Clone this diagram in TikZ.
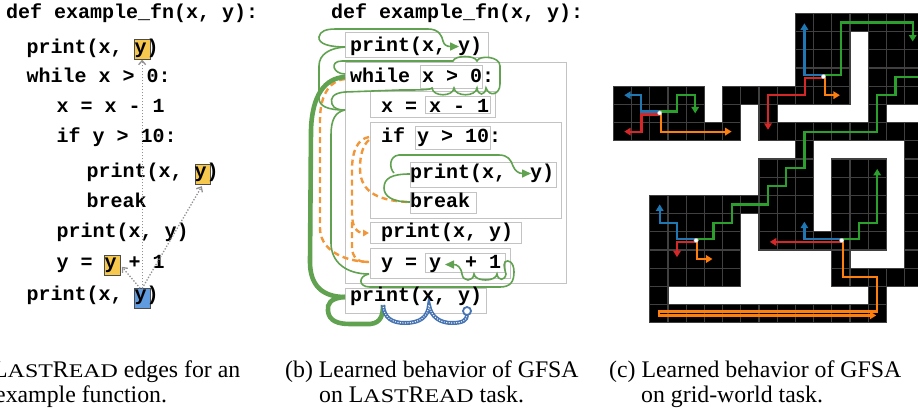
\documentclass[tikz,border=0pt]{standalone}
\usepackage{fontspec}
\usepackage{graphicx}
\setmainfont{Liberation Serif}
\setmonofont{Liberation Mono}
\usetikzlibrary{arrows.meta}
\definecolor{hlyel}{RGB}{246,200,78}
\definecolor{hlblu}{RGB}{95,155,222}
\definecolor{boxgray}{RGB}{195,195,195}
\definecolor{lrgray}{RGB}{145,145,145}
\definecolor{gfgreen}{RGB}{96,162,80}
\definecolor{gforange}{RGB}{242,150,58}
\definecolor{gfblue}{RGB}{70,115,178}
\definecolor{tabblue}{RGB}{31,119,180}
\definecolor{taborange}{RGB}{255,127,14}
\definecolor{tabgreen}{RGB}{44,160,44}
\definecolor{tabred}{RGB}{214,39,40}
\definecolor{cellline}{RGB}{64,64,64}
\newcommand\codesize{\fontsize{20}{20}\selectfont\ttfamily\bfseries}
\newcommand\capsize{\fontsize{23.8}{26}\selectfont}
% small capitals imitated with widened, reduced capitals
\newcommand\smallcaps[1]{\scalebox{1.24}[1]{\fontsize{19.3}{20}\selectfont #1}}
\newcommand\lastread{L\smallcaps{AST}R\smallcaps{EAD}}
% a plain gray frame given by its corners
\newcommand\codebox[5]{\node[cbox,minimum width={#4-#2},minimum height={#5-#3}] (#1) at ({(#2+#4)/2},{(#3+#5)/2}) {};}
\begin{document}
\begin{tikzpicture}[x=1pt,y=-1pt,
  code/.style={anchor=base west,inner sep=0pt,font=\codesize},
  captext/.style={anchor=base west,inner sep=0pt,font=\capsize},
  cbox/.style={draw=boxgray,line width=1pt,inner sep=0pt,rectangle},
  hlbox/.style={draw=black!70,line width=0.8pt,inner sep=0pt,minimum width=15.7pt,minimum height=20pt},
  lrarrow/.style={draw=lrgray,line width=1.3pt,dash pattern=on 1.3pt off 1.7pt,-{Straight Barb[length=4pt,width=7pt]}},
  gthin/.style={draw=gfgreen,line width=1.6pt},
  gthick/.style={draw=gfgreen,line width=4.6pt},
  gtip/.style={-{Triangle[length=9pt,width=8pt]}},
  odash/.style={draw=gforange,line width=2.4pt,dash pattern=on 6pt off 4pt},
  otip/.style={-{Triangle[length=6pt,width=6.5pt]}},
  bead/.style={draw=gfblue,line width=4pt,postaction={draw=white,line width=1.4pt,dash pattern=on 0pt off 2.5pt,line cap=round}},
  walk/.style={line width=2.2pt,-{Triangle[length=6.5pt,width=7.5pt]}},
  agent/.style={fill=white,draw=black!30,line width=0.4pt}
]
\useasboundingbox (0,0) rectangle (918,408);

%%%%%%%%%%%%%%%% (a) last-read edges %%%%%%%%%%%%%%%%
\node[hlbox,fill=hlyel] (ya1) at (142.15,49.3) {};
\node[hlbox,fill=hlyel] (ya2) at (202.85,174.3) {};
\node[hlbox,fill=hlyel] (ya3) at (112.15,265.3) {};
\node[hlbox,fill=hlblu] (yb) at (142.15,298.7) {};

\node[code] (a0) at (6,18) {def example\_fn(x, y):};
\node[code] (a1) at (26.5,53) {print(x, y)};
\node[code] (a2) at (26.5,82) {while x > 0:};
\node[code] (a3) at (56.5,112) {x = x - 1};
\node[code] (a4) at (56.5,142) {if y > 10:};
\node[code] (a5) at (86.5,177) {print(x, y)};
\node[code] (a6) at (86.5,207) {break};
\node[code] (a7) at (56.5,237) {print(x, y)};
\node[code] (a8) at (56.5,268) {y = y + 1};
\node[code] (a9) at (26.5,300) {print(x, y)};

\draw[lrarrow] (yb.north) -- (ya1.south);
\draw[lrarrow] (yb.north) -- ([xshift=-1pt,yshift=-1.5pt]ya2.south);
\draw[lrarrow] ([xshift=-2pt]yb.north) -- ([xshift=1.5pt,yshift=-1.5pt]ya3.east);

%%%%%%%%%%%%%%%% (b) learned GFSA behaviour on the code %%%%%%%%%%%%%%%%
\codebox{bp1}{345}{32}{488}{57}
\codebox{bw}{345}{62}{566}{283}
\codebox{bw0}{420}{65}{482}{88}
\codebox{bx}{370}{91}{495}{117}
\codebox{bx0}{425}{96}{490}{113}
\codebox{bif}{370}{122}{561}{218}
\codebox{bif0}{415}{126}{490}{149}
\codebox{bp2}{410}{162}{556}{187}
\codebox{bbr}{410}{192}{476}{213}
\codebox{bp3}{370}{222}{521}{243}
\codebox{by}{370}{248}{510}{278}
\codebox{by0}{425}{253}{505}{272}
\codebox{bp4}{345}{288}{486}{313}

\coordinate (p1l) at (345,47);
\coordinate (wl) at (345,77);
\coordinate (wlb) at (345,79);
\coordinate (wlt) at (345,74);
\coordinate (xl) at (345,110);
\coordinate (ifl) at (369,137);
\coordinate (ifl2) at (369,140);
\coordinate (p2l) at (410,174);
\coordinate (brl) at (410,202);
\coordinate (p3l) at (369,233);
\coordinate (yl) at (369,274);
\coordinate (yl2) at (369,262);
\coordinate (p4l) at (345,297);
\coordinate (p4x) at (383,305);
\coordinate (p4m) at (429,305);
\coordinate (p4y) at (467,311);

% dashed orange runs
\draw[odash] (wlb) .. controls (332,80) and (320,92) .. (320,120) -- (320,228) .. controls (320,248) and (340,261) .. (yl2);
\draw[odash,otip] (ifl) .. controls (358,139) and (352,150) .. (352,170) -- (352,214) .. controls (352,227) and (357,233) .. (p3l);
\draw[odash] (352,222) -- (352,247) .. controls (352,257) and (358,263) .. (yl2);
\draw[odash] (ifl2) .. controls (363,145) and (360,155) .. (360,168) .. controls (360,188) and (372,201) .. (brl);

% thick green run down to the last print
\draw[gthick] (wl) .. controls (325,78) and (312,95) .. (311,130) -- (310,262) .. controls (310,285) and (322,297) .. (p4l);
\draw[gthick] (p4l) .. controls (330,298) and (327,304) .. (328,311) .. controls (329,321) and (338,324) .. (350,324) -- (370,324) .. controls (381,323) and (383,315) .. (p4x);

% thin green runs
\draw[gthin,gtip] (p1l) .. controls (330,47) and (318,44) .. (319,37) .. controls (320,31) and (326,29) .. (336,29) -- (428,29) .. controls (439,29) and (442,36) .. (443,41) .. controls (444,45) and (447,46.5) .. (459,46.5);
\draw[gthin] (p1l) .. controls (330,48) and (319,54) .. (319,66) -- (319,98) .. controls (319,106) and (327,110) .. (xl);
\draw[gthin] (wlt) .. controls (333,74) and (329,61) .. (342,61) -- (453,61)
  .. controls (455,55) and (475,55) .. (477,61)
  .. controls (479,55) and (500,56) .. (500,66) -- (500,84)
  .. controls (500,95) and (489,97) .. (486,88)
  .. controls (485,96) and (478,96) .. (477,88)
  .. controls (476,97) and (455,97) .. (454,88)
  .. controls (453,97) and (433,97) .. (432,88)
  .. controls (430,90) and (420,90) .. (400,90) -- (345,92)
  .. controls (333,93) and (330,98) .. (332,104) .. controls (334,109) and (339,110) .. (xl);
\draw[gthin] (xl) .. controls (335,112) and (331,120) .. (331,135) -- (331,243) .. controls (331,262) and (346,274) .. (yl);
\draw[gthin] (brl) .. controls (392,202) and (384,196) .. (384,188) .. controls (384,178) and (392,174) .. (p2l);
\draw[gthin,gtip] (394,173) .. controls (389,168) and (389,156) .. (399,155) -- (499,155) .. controls (508,155) and (511,160) .. (513,166) .. controls (515,171) and (519,173.5) .. (531,173.5);
\draw[gthin,gtip] (yl) .. controls (358,276) and (358,287) .. (370,287) -- (500,287)
  .. controls (511,287) and (514,281) .. (514,272) .. controls (514,262) and (508,259) .. (505,262)
  .. controls (503,265) and (505,270) .. (506,274)
  .. controls (505,281) and (498,281) .. (497,274)
  .. controls (496,282) and (475,282) .. (474,274)
  .. controls (473,282) and (463,282) .. (462,274)
  .. controls (461,267) and (457,264.5) .. (445,264.5);

% beaded blue run under the last print
\draw[bead] (p4x) .. controls (384,318) and (392,323) .. (405,323) .. controls (420,323) and (428,317) .. (p4m) .. controls (431,317) and (440,323) .. (452,323) .. controls (463,323) and (467,320) .. (467,315);
\draw[draw=gfblue,fill=white,line width=1.8pt] (p4y) circle (4);

\node[code] (b0) at (331,18) {def example\_fn(x, y):};
\node[code] (b1) at (350,51) {print(x, y)};
\node[code] (b2) at (350,82) {while x > 0:};
\node[code] (b3) at (381,112) {x = x - 1};
\node[code] (b4) at (381,142) {if y > 10:};
\node[code] (b5) at (410,178) {print(x,\ \ y)};
\node[code] (b6) at (410,207) {break};
\node[code] (b7) at (381,237) {print(x, y)};
\node[code] (b8) at (381,268) {y = y\ \ + 1};
\node[code] (b9) at (350,301) {print(x, y)};

%%%%%%%%%%%%%%%% (c) grid world %%%%%%%%%%%%%%%%
\begin{scope}[shift={(613.3,13.3)},x=18.2pt,y=-18.2pt]
  \def\maze{0/{10,11,12,13,14,15,16},
    1/{10,11,12,14,15,16}, 2/{10,11,12,14,15,16}, 3/{10,11,12,14,15,16},
    4/{0,1,2,3,4,6,7,8,9,10,11,12,14,15,16},
    5/{0,1,2,3,4,6,8,14},
    6/{0,1,2,3,4,5,6,8,9,10,11,12,13,14,15,16},
    7/{10,16},
    8/{8,9,10,12,13,14,16}, 9/{8,9,10,12,13,14,16},
    10/{2,3,4,5,6,7,8,9,10,12,13,14,16},
    11/{2,3,4,5,6,8,9,10,12,13,14,16},
    12/{2,3,4,5,6,8,9,10,11,12,13,14,16},
    13/{2,3,4,5,6,12,16},
    14/{2,3,4,5,6,12,13,14,15,16},
    15/{2,14},
    16/{2,3,4,5,6,7,8,9,10,11,12,13,14}}
  \foreach \r/\cs in \maze {\foreach \c in \cs {\fill[black] (\c,\r) rectangle ++(1,1);}}
  \foreach \r/\cs in \maze {\foreach \c in \cs {\draw[cellline,line width=1.2pt] (\c,\r) rectangle ++(1,1);}}

  % agent on the left ledge
  \draw[walk,tabgreen] (2.5,5.4) -- (3.5,5.4) -- (3.5,4.5) -- (4.5,4.5) -- (4.5,5.5);
  \draw[walk,tabblue] (2.5,5.4) -- (1.5,5.4) -- (1.5,4.5) -- (0.6,4.5);
  \draw[walk,tabred] (2.5,5.56) -- (1.55,5.56) -- (1.55,6.5) -- (0.6,6.5);
  \draw[walk,taborange] (2.62,5.56) -- (2.62,6.5) -- (6.5,6.5);
  \fill[agent] (2.55,5.48) circle (2.2pt);

  % agent in the upper room
  \draw[walk,tabgreen] (11.5,3.4) -- (12.5,3.4) -- (12.5,0.5) -- (16.45,0.5) -- (16.45,1.55);
  \draw[walk,tabblue] (11.5,3.4) -- (10.5,3.4) -- (10.5,0.55);
  \draw[walk,tabred] (11.5,3.56) -- (10.55,3.56) -- (10.55,4.5) -- (8.5,4.5) -- (8.5,6.4);
  \draw[walk,taborange] (11.62,3.56) -- (11.62,4.5) -- (12.45,4.5);
  \fill[agent] (11.55,3.48) circle (2.2pt);

  % agent in the lower left room
  \draw[walk,tabgreen] (4.5,12.4) -- (5.5,12.4) -- (5.5,11.5) -- (6.5,11.5) -- (6.5,10.5) -- (8.5,10.5) -- (8.5,9.5) -- (9.5,9.5) -- (9.5,8.5) -- (10.5,8.5) -- (10.5,6.5) -- (14.5,6.5) -- (14.5,4.5) -- (15.5,4.5) -- (15.5,3.5) -- (17.2,3.5);
  \draw[walk,tabblue] (4.5,12.4) -- (3.5,12.4) -- (3.5,11.5) -- (2.55,11.5) -- (2.55,10.5);
  \draw[walk,tabred] (4.5,12.56) -- (3.5,12.56) -- (3.5,13.4);
  \draw[walk,taborange] (4.62,12.56) -- (4.62,13.5) -- (5.45,13.5);
  \fill[agent] (4.55,12.48) circle (2.2pt);

  % agent in the lower right room
  \draw[walk,tabgreen] (12.5,12.4) -- (13.5,12.4) -- (13.5,11.5) -- (14.5,11.5) -- (14.5,8.55);
  \draw[walk,tabblue] (12.5,12.4) -- (10.5,12.4) -- (10.5,11.45);
  \draw[walk,tabred] (12.5,12.56) -- (8.6,12.56);
  \draw[walk,taborange] (12.6,12.56) -- (12.6,14.5) -- (14.5,14.5) -- (14.5,16.38) -- (2.5,16.38) -- (2.5,16.6) -- (14.45,16.6);
  \fill[agent] (12.55,12.48) circle (2.2pt);
\end{scope}

%%%%%%%%%%%%%%%% captions %%%%%%%%%%%%%%%%
\node[captext] (ca1) at (-7,377) {\lastread{} edges for an};
\node[captext] (ca2) at (-5,402.5) {example function.};
\node[captext] (cb1) at (285,377) {(b) Learned behavior of GFSA};
\node[captext] (cb2) at (319,402.5) {on \lastread{} task.};
\node[captext] (cc1) at (609,377) {(c) Learned behavior of GFSA};
\node[captext] (cc2) at (641,402.5) {on grid-world task.};
\end{tikzpicture}
\end{document}
